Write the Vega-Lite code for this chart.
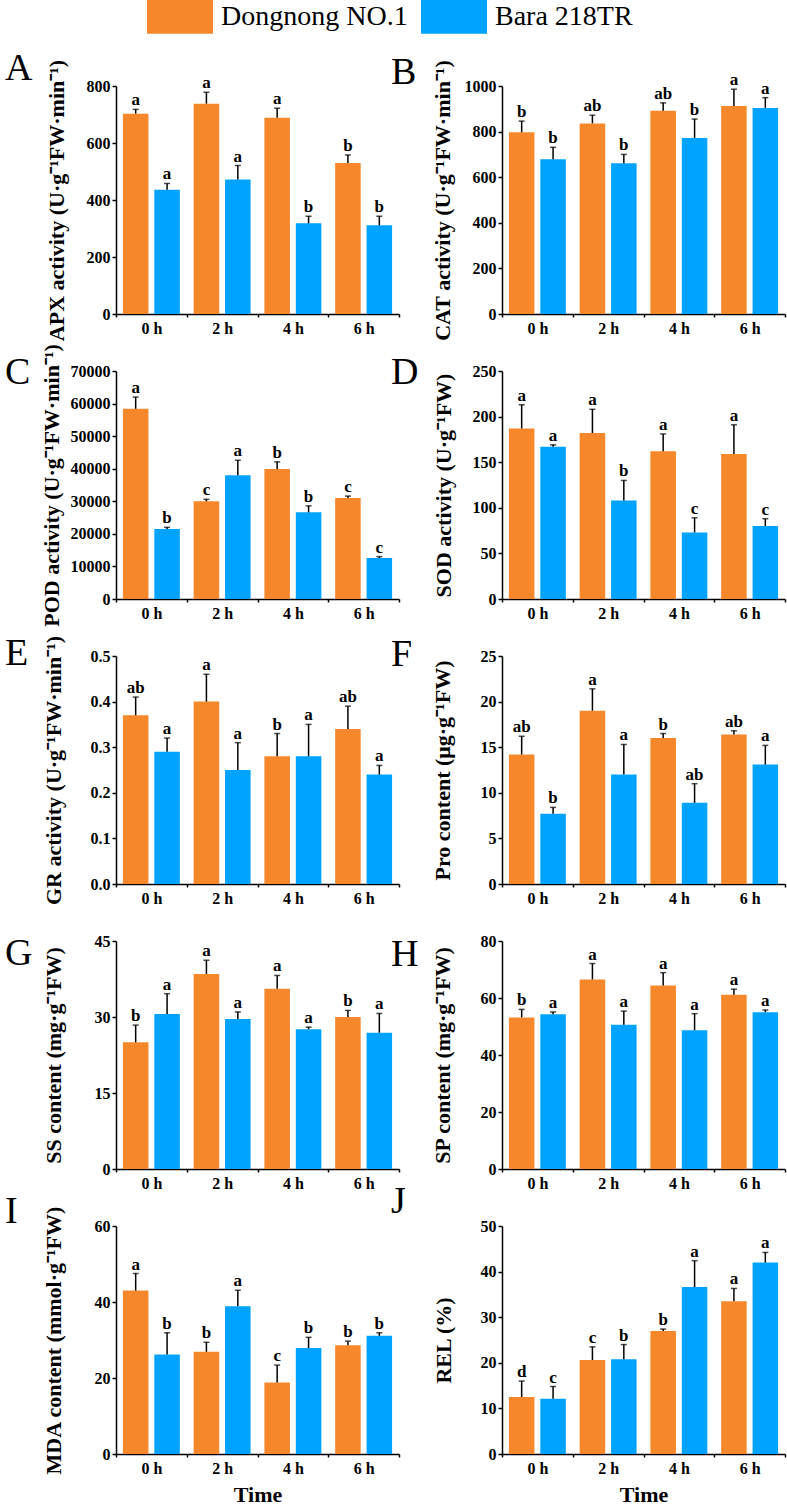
{
  "$schema": "https://vega.github.io/schema/vega-lite/v6.json",
  "background": "white",
  "padding": {"left": 5, "top": 0, "right": 1, "bottom": 1},
  "autosize": {"type": "pad"},
  "data": {"values": [
    {"p": "A", "time": "0 h", "cultivar": "Dongnong NO.1", "mean": 703, "upper": 718, "sig": "a"},
    {"p": "A", "time": "0 h", "cultivar": "Bara 218TR", "mean": 436, "upper": 458, "sig": "a"},
    {"p": "A", "time": "2 h", "cultivar": "Dongnong NO.1", "mean": 738, "upper": 778, "sig": "a"},
    {"p": "A", "time": "2 h", "cultivar": "Bara 218TR", "mean": 472, "upper": 521, "sig": "a"},
    {"p": "A", "time": "4 h", "cultivar": "Dongnong NO.1", "mean": 689, "upper": 722, "sig": "a"},
    {"p": "A", "time": "4 h", "cultivar": "Bara 218TR", "mean": 318, "upper": 343, "sig": "b"},
    {"p": "A", "time": "6 h", "cultivar": "Dongnong NO.1", "mean": 530, "upper": 558, "sig": "b"},
    {"p": "A", "time": "6 h", "cultivar": "Bara 218TR", "mean": 311, "upper": 343, "sig": "b"},

    {"p": "B", "time": "0 h", "cultivar": "Dongnong NO.1", "mean": 797, "upper": 846, "sig": "b"},
    {"p": "B", "time": "0 h", "cultivar": "Bara 218TR", "mean": 679, "upper": 731, "sig": "b"},
    {"p": "B", "time": "2 h", "cultivar": "Dongnong NO.1", "mean": 836, "upper": 872, "sig": "ab"},
    {"p": "B", "time": "2 h", "cultivar": "Bara 218TR", "mean": 661, "upper": 700, "sig": "b"},
    {"p": "B", "time": "4 h", "cultivar": "Dongnong NO.1", "mean": 891, "upper": 926, "sig": "ab"},
    {"p": "B", "time": "4 h", "cultivar": "Bara 218TR", "mean": 772, "upper": 855, "sig": "b"},
    {"p": "B", "time": "6 h", "cultivar": "Dongnong NO.1", "mean": 912, "upper": 986, "sig": "a"},
    {"p": "B", "time": "6 h", "cultivar": "Bara 218TR", "mean": 904, "upper": 949, "sig": "a"},

    {"p": "C", "time": "0 h", "cultivar": "Dongnong NO.1", "mean": 58400, "upper": 62000, "sig": "a"},
    {"p": "C", "time": "0 h", "cultivar": "Bara 218TR", "mean": 21500, "upper": 22000, "sig": "b"},
    {"p": "C", "time": "2 h", "cultivar": "Dongnong NO.1", "mean": 30000, "upper": 30600, "sig": "c"},
    {"p": "C", "time": "2 h", "cultivar": "Bara 218TR", "mean": 38000, "upper": 42600, "sig": "a"},
    {"p": "C", "time": "4 h", "cultivar": "Dongnong NO.1", "mean": 39900, "upper": 42100, "sig": "b"},
    {"p": "C", "time": "4 h", "cultivar": "Bara 218TR", "mean": 26600, "upper": 28600, "sig": "b"},
    {"p": "C", "time": "6 h", "cultivar": "Dongnong NO.1", "mean": 31000, "upper": 31600, "sig": "c"},
    {"p": "C", "time": "6 h", "cultivar": "Bara 218TR", "mean": 12600, "upper": 13000, "sig": "c"},

    {"p": "D", "time": "0 h", "cultivar": "Dongnong NO.1", "mean": 187, "upper": 213, "sig": "a"},
    {"p": "D", "time": "0 h", "cultivar": "Bara 218TR", "mean": 167, "upper": 169, "sig": "a"},
    {"p": "D", "time": "2 h", "cultivar": "Dongnong NO.1", "mean": 182, "upper": 208, "sig": "a"},
    {"p": "D", "time": "2 h", "cultivar": "Bara 218TR", "mean": 108, "upper": 130, "sig": "b"},
    {"p": "D", "time": "4 h", "cultivar": "Dongnong NO.1", "mean": 162, "upper": 181, "sig": "a"},
    {"p": "D", "time": "4 h", "cultivar": "Bara 218TR", "mean": 73, "upper": 89, "sig": "c"},
    {"p": "D", "time": "6 h", "cultivar": "Dongnong NO.1", "mean": 159, "upper": 191, "sig": "a"},
    {"p": "D", "time": "6 h", "cultivar": "Bara 218TR", "mean": 80, "upper": 88, "sig": "c"},

    {"p": "E", "time": "0 h", "cultivar": "Dongnong NO.1", "mean": 0.37, "upper": 0.41, "sig": "ab"},
    {"p": "E", "time": "0 h", "cultivar": "Bara 218TR", "mean": 0.29, "upper": 0.32, "sig": "a"},
    {"p": "E", "time": "2 h", "cultivar": "Dongnong NO.1", "mean": 0.40, "upper": 0.46, "sig": "a"},
    {"p": "E", "time": "2 h", "cultivar": "Bara 218TR", "mean": 0.25, "upper": 0.31, "sig": "a"},
    {"p": "E", "time": "4 h", "cultivar": "Dongnong NO.1", "mean": 0.28, "upper": 0.33, "sig": "b"},
    {"p": "E", "time": "4 h", "cultivar": "Bara 218TR", "mean": 0.28, "upper": 0.35, "sig": "a"},
    {"p": "E", "time": "6 h", "cultivar": "Dongnong NO.1", "mean": 0.34, "upper": 0.39, "sig": "ab"},
    {"p": "E", "time": "6 h", "cultivar": "Bara 218TR", "mean": 0.24, "upper": 0.26, "sig": "a"},

    {"p": "F", "time": "0 h", "cultivar": "Dongnong NO.1", "mean": 14.2, "upper": 16.2, "sig": "ab"},
    {"p": "F", "time": "0 h", "cultivar": "Bara 218TR", "mean": 7.7, "upper": 8.4, "sig": "b"},
    {"p": "F", "time": "2 h", "cultivar": "Dongnong NO.1", "mean": 19.0, "upper": 21.4, "sig": "a"},
    {"p": "F", "time": "2 h", "cultivar": "Bara 218TR", "mean": 12.0, "upper": 15.3, "sig": "a"},
    {"p": "F", "time": "4 h", "cultivar": "Dongnong NO.1", "mean": 16.0, "upper": 16.5, "sig": "b"},
    {"p": "F", "time": "4 h", "cultivar": "Bara 218TR", "mean": 8.9, "upper": 11.0, "sig": "ab"},
    {"p": "F", "time": "6 h", "cultivar": "Dongnong NO.1", "mean": 16.4, "upper": 16.8, "sig": "ab"},
    {"p": "F", "time": "6 h", "cultivar": "Bara 218TR", "mean": 13.1, "upper": 15.2, "sig": "a"},

    {"p": "G", "time": "0 h", "cultivar": "Dongnong NO.1", "mean": 25.0, "upper": 28.4, "sig": "b"},
    {"p": "G", "time": "0 h", "cultivar": "Bara 218TR", "mean": 30.6, "upper": 34.6, "sig": "a"},
    {"p": "G", "time": "2 h", "cultivar": "Dongnong NO.1", "mean": 38.5, "upper": 41.2, "sig": "a"},
    {"p": "G", "time": "2 h", "cultivar": "Bara 218TR", "mean": 29.6, "upper": 31.0, "sig": "a"},
    {"p": "G", "time": "4 h", "cultivar": "Dongnong NO.1", "mean": 35.6, "upper": 38.2, "sig": "a"},
    {"p": "G", "time": "4 h", "cultivar": "Bara 218TR", "mean": 27.6, "upper": 28.0, "sig": "a"},
    {"p": "G", "time": "6 h", "cultivar": "Dongnong NO.1", "mean": 30.0, "upper": 31.3, "sig": "b"},
    {"p": "G", "time": "6 h", "cultivar": "Bara 218TR", "mean": 26.9, "upper": 30.7, "sig": "a"},

    {"p": "H", "time": "0 h", "cultivar": "Dongnong NO.1", "mean": 53.2, "upper": 56.0, "sig": "b"},
    {"p": "H", "time": "0 h", "cultivar": "Bara 218TR", "mean": 54.3, "upper": 55.1, "sig": "a"},
    {"p": "H", "time": "2 h", "cultivar": "Dongnong NO.1", "mean": 66.5, "upper": 72.1, "sig": "a"},
    {"p": "H", "time": "2 h", "cultivar": "Bara 218TR", "mean": 50.6, "upper": 55.4, "sig": "a"},
    {"p": "H", "time": "4 h", "cultivar": "Dongnong NO.1", "mean": 64.4, "upper": 68.9, "sig": "a"},
    {"p": "H", "time": "4 h", "cultivar": "Bara 218TR", "mean": 48.7, "upper": 54.5, "sig": "a"},
    {"p": "H", "time": "6 h", "cultivar": "Dongnong NO.1", "mean": 61.1, "upper": 63.1, "sig": "a"},
    {"p": "H", "time": "6 h", "cultivar": "Bara 218TR", "mean": 55.0, "upper": 55.8, "sig": "a"},

    {"p": "I", "time": "0 h", "cultivar": "Dongnong NO.1", "mean": 43.0, "upper": 47.5, "sig": "a"},
    {"p": "I", "time": "0 h", "cultivar": "Bara 218TR", "mean": 26.2, "upper": 31.9, "sig": "b"},
    {"p": "I", "time": "2 h", "cultivar": "Dongnong NO.1", "mean": 26.9, "upper": 29.4, "sig": "b"},
    {"p": "I", "time": "2 h", "cultivar": "Bara 218TR", "mean": 38.9, "upper": 43.1, "sig": "a"},
    {"p": "I", "time": "4 h", "cultivar": "Dongnong NO.1", "mean": 18.8, "upper": 23.4, "sig": "c"},
    {"p": "I", "time": "4 h", "cultivar": "Bara 218TR", "mean": 27.9, "upper": 30.7, "sig": "b"},
    {"p": "I", "time": "6 h", "cultivar": "Dongnong NO.1", "mean": 28.6, "upper": 29.7, "sig": "b"},
    {"p": "I", "time": "6 h", "cultivar": "Bara 218TR", "mean": 31.1, "upper": 31.9, "sig": "b"},

    {"p": "J", "time": "0 h", "cultivar": "Dongnong NO.1", "mean": 12.5, "upper": 16.0, "sig": "d"},
    {"p": "J", "time": "0 h", "cultivar": "Bara 218TR", "mean": 12.1, "upper": 14.8, "sig": "c"},
    {"p": "J", "time": "2 h", "cultivar": "Dongnong NO.1", "mean": 20.6, "upper": 23.5, "sig": "c"},
    {"p": "J", "time": "2 h", "cultivar": "Bara 218TR", "mean": 20.8, "upper": 24.0, "sig": "b"},
    {"p": "J", "time": "4 h", "cultivar": "Dongnong NO.1", "mean": 27.0, "upper": 27.4, "sig": "b"},
    {"p": "J", "time": "4 h", "cultivar": "Bara 218TR", "mean": 36.6, "upper": 42.4, "sig": "a"},
    {"p": "J", "time": "6 h", "cultivar": "Dongnong NO.1", "mean": 33.5, "upper": 36.3, "sig": "a"},
    {"p": "J", "time": "6 h", "cultivar": "Bara 218TR", "mean": 42.0, "upper": 44.2, "sig": "a"}
  ]},
  "columns": 2,
  "spacing": {"row": 57, "column": 103},
  "bounds": "flush",
  "align": "all",
  "concat": [
    {
      "title": {"text": "A", "offset": -29, "dx": -111},
      "width": 283, "height": 228,
      "transform": [{"filter": "datum.p === 'A'"}],
      "encoding": {
        "x": {"field": "time", "type": "nominal", "scale": {"paddingInner": 0, "paddingOuter": 0}, "axis": {"title": null}},
        "xOffset": {"field": "cultivar", "type": "nominal", "sort": ["Dongnong NO.1", "Bara 218TR"], "scale": {"paddingInner": 0.1875, "paddingOuter": 0.22}}
      },
      "layer": [
        {"mark": {"type": "bar"}, "encoding": {
          "y": {"field": "mean", "type": "quantitative", "scale": {"domain": [0, 800], "nice": false}, "axis": {"title": "APX activity (U·g⁻¹FW·min⁻¹)", "values": [0, 200, 400, 600, 800], "tickCount": 5, "titleX": -48}},
          "color": {"field": "cultivar", "type": "nominal", "scale": {"domain": ["Dongnong NO.1", "Bara 218TR"], "range": ["#F6872B", "#00A3FF"]}, "legend": {"title": null, "orient": "none", "legendX": 31, "legendY": -86}}}},
        {"mark": {"type": "rule", "strokeWidth": 1.5, "color": "#000"}, "encoding": {"y": {"field": "mean", "type": "quantitative"}, "y2": {"field": "upper"}}},
        {"mark": {"type": "tick", "orient": "horizontal", "size": 6, "thickness": 1.5, "color": "#000"}, "encoding": {"y": {"field": "upper", "type": "quantitative"}}},
        {"mark": {"type": "text", "baseline": "alphabetic", "dy": -4, "font": "Liberation Serif", "fontWeight": "bold", "fontSize": 17, "color": "#000"}, "encoding": {"y": {"field": "upper", "type": "quantitative"}, "text": {"field": "sig"}}}
      ]
    },
    {
      "title": {"text": "B", "offset": -32, "dx": -111},
      "width": 283, "height": 228,
      "transform": [{"filter": "datum.p === 'B'"}],
      "encoding": {
        "x": {"field": "time", "type": "nominal", "scale": {"paddingInner": 0, "paddingOuter": 0}, "axis": {"title": null}},
        "xOffset": {"field": "cultivar", "type": "nominal", "sort": ["Dongnong NO.1", "Bara 218TR"], "scale": {"paddingInner": 0.1875, "paddingOuter": 0.22}}
      },
      "layer": [
        {"mark": {"type": "bar"}, "encoding": {
          "y": {"field": "mean", "type": "quantitative", "scale": {"domain": [0, 1000], "nice": false}, "axis": {"title": "CAT activity (U·g⁻¹FW·min⁻¹)", "values": [0, 200, 400, 600, 800, 1000], "tickCount": 6, "format": "d", "titleX": -48}},
          "color": {"field": "cultivar", "type": "nominal", "scale": {"domain": ["Dongnong NO.1", "Bara 218TR"], "range": ["#F6872B", "#00A3FF"]}, "legend": {"title": null, "orient": "none", "legendX": 31, "legendY": -86}}}},
        {"mark": {"type": "rule", "strokeWidth": 1.5, "color": "#000"}, "encoding": {"y": {"field": "mean", "type": "quantitative"}, "y2": {"field": "upper"}}},
        {"mark": {"type": "tick", "orient": "horizontal", "size": 6, "thickness": 1.5, "color": "#000"}, "encoding": {"y": {"field": "upper", "type": "quantitative"}}},
        {"mark": {"type": "text", "baseline": "alphabetic", "dy": -4, "font": "Liberation Serif", "fontWeight": "bold", "fontSize": 17, "color": "#000"}, "encoding": {"y": {"field": "upper", "type": "quantitative"}, "text": {"field": "sig"}}}
      ]
    },
    {
      "title": {"text": "C", "offset": -48, "dx": -111},
      "width": 283, "height": 228,
      "transform": [{"filter": "datum.p === 'C'"}],
      "encoding": {
        "x": {"field": "time", "type": "nominal", "scale": {"paddingInner": 0, "paddingOuter": 0}, "axis": {"title": null}},
        "xOffset": {"field": "cultivar", "type": "nominal", "sort": ["Dongnong NO.1", "Bara 218TR"], "scale": {"paddingInner": 0.1875, "paddingOuter": 0.22}}
      },
      "layer": [
        {"mark": {"type": "bar"}, "encoding": {
          "y": {"field": "mean", "type": "quantitative", "scale": {"domain": [0, 70000], "nice": false}, "axis": {"title": "POD activity (U·g⁻¹FW·min⁻¹)", "values": [0, 10000, 20000, 30000, 40000, 50000, 60000, 70000], "tickCount": 8, "labelOverlap": false, "format": "d", "titleX": -53}},
          "color": {"field": "cultivar", "type": "nominal", "scale": {"domain": ["Dongnong NO.1", "Bara 218TR"], "range": ["#F6872B", "#00A3FF"]}, "legend": {"title": null, "orient": "none", "legendX": 31, "legendY": -86}}}},
        {"mark": {"type": "rule", "strokeWidth": 1.5, "color": "#000"}, "encoding": {"y": {"field": "mean", "type": "quantitative"}, "y2": {"field": "upper"}}},
        {"mark": {"type": "tick", "orient": "horizontal", "size": 6, "thickness": 1.5, "color": "#000"}, "encoding": {"y": {"field": "upper", "type": "quantitative"}}},
        {"mark": {"type": "text", "baseline": "alphabetic", "dy": -4, "font": "Liberation Serif", "fontWeight": "bold", "fontSize": 17, "color": "#000"}, "encoding": {"y": {"field": "upper", "type": "quantitative"}, "text": {"field": "sig"}}}
      ]
    },
    {
      "title": {"text": "D", "offset": -29, "dx": -111},
      "width": 283, "height": 228,
      "transform": [{"filter": "datum.p === 'D'"}],
      "encoding": {
        "x": {"field": "time", "type": "nominal", "scale": {"paddingInner": 0, "paddingOuter": 0}, "axis": {"title": null}},
        "xOffset": {"field": "cultivar", "type": "nominal", "sort": ["Dongnong NO.1", "Bara 218TR"], "scale": {"paddingInner": 0.1875, "paddingOuter": 0.22}}
      },
      "layer": [
        {"mark": {"type": "bar"}, "encoding": {
          "y": {"field": "mean", "type": "quantitative", "scale": {"domain": [0, 250], "nice": false}, "axis": {"title": "SOD activity (U·g⁻¹FW)", "values": [0, 50, 100, 150, 200, 250], "tickCount": 6, "titleX": -47}},
          "color": {"field": "cultivar", "type": "nominal", "scale": {"domain": ["Dongnong NO.1", "Bara 218TR"], "range": ["#F6872B", "#00A3FF"]}, "legend": {"title": null, "orient": "none", "legendX": 31, "legendY": -86}}}},
        {"mark": {"type": "rule", "strokeWidth": 1.5, "color": "#000"}, "encoding": {"y": {"field": "mean", "type": "quantitative"}, "y2": {"field": "upper"}}},
        {"mark": {"type": "tick", "orient": "horizontal", "size": 6, "thickness": 1.5, "color": "#000"}, "encoding": {"y": {"field": "upper", "type": "quantitative"}}},
        {"mark": {"type": "text", "baseline": "alphabetic", "dy": -4, "font": "Liberation Serif", "fontWeight": "bold", "fontSize": 17, "color": "#000"}, "encoding": {"y": {"field": "upper", "type": "quantitative"}, "text": {"field": "sig"}}}
      ]
    },
    {
      "title": {"text": "E", "offset": -38, "dx": -111},
      "width": 283, "height": 228,
      "transform": [{"filter": "datum.p === 'E'"}],
      "encoding": {
        "x": {"field": "time", "type": "nominal", "scale": {"paddingInner": 0, "paddingOuter": 0}, "axis": {"title": null}},
        "xOffset": {"field": "cultivar", "type": "nominal", "sort": ["Dongnong NO.1", "Bara 218TR"], "scale": {"paddingInner": 0.1875, "paddingOuter": 0.22}}
      },
      "layer": [
        {"mark": {"type": "bar"}, "encoding": {
          "y": {"field": "mean", "type": "quantitative", "scale": {"domain": [0, 0.5], "nice": false}, "axis": {"title": "GR activity (U·g⁻¹FW·min⁻¹)", "values": [0, 0.1, 0.2, 0.3, 0.4, 0.5], "tickCount": 6, "format": ".1f", "titleX": -51}},
          "color": {"field": "cultivar", "type": "nominal", "scale": {"domain": ["Dongnong NO.1", "Bara 218TR"], "range": ["#F6872B", "#00A3FF"]}, "legend": {"title": null, "orient": "none", "legendX": 31, "legendY": -86}}}},
        {"mark": {"type": "rule", "strokeWidth": 1.5, "color": "#000"}, "encoding": {"y": {"field": "mean", "type": "quantitative"}, "y2": {"field": "upper"}}},
        {"mark": {"type": "tick", "orient": "horizontal", "size": 6, "thickness": 1.5, "color": "#000"}, "encoding": {"y": {"field": "upper", "type": "quantitative"}}},
        {"mark": {"type": "text", "baseline": "alphabetic", "dy": -4, "font": "Liberation Serif", "fontWeight": "bold", "fontSize": 17, "color": "#000"}, "encoding": {"y": {"field": "upper", "type": "quantitative"}, "text": {"field": "sig"}}}
      ]
    },
    {
      "title": {"text": "F", "offset": -26, "dx": -111},
      "width": 283, "height": 228,
      "transform": [{"filter": "datum.p === 'F'"}],
      "encoding": {
        "x": {"field": "time", "type": "nominal", "scale": {"paddingInner": 0, "paddingOuter": 0}, "axis": {"title": null}},
        "xOffset": {"field": "cultivar", "type": "nominal", "sort": ["Dongnong NO.1", "Bara 218TR"], "scale": {"paddingInner": 0.1875, "paddingOuter": 0.22}}
      },
      "layer": [
        {"mark": {"type": "bar"}, "encoding": {
          "y": {"field": "mean", "type": "quantitative", "scale": {"domain": [0, 25], "nice": false}, "axis": {"title": "Pro content (μg·g⁻¹FW)", "values": [0, 5, 10, 15, 20, 25], "tickCount": 6, "titleX": -48}},
          "color": {"field": "cultivar", "type": "nominal", "scale": {"domain": ["Dongnong NO.1", "Bara 218TR"], "range": ["#F6872B", "#00A3FF"]}, "legend": {"title": null, "orient": "none", "legendX": 31, "legendY": -86}}}},
        {"mark": {"type": "rule", "strokeWidth": 1.5, "color": "#000"}, "encoding": {"y": {"field": "mean", "type": "quantitative"}, "y2": {"field": "upper"}}},
        {"mark": {"type": "tick", "orient": "horizontal", "size": 6, "thickness": 1.5, "color": "#000"}, "encoding": {"y": {"field": "upper", "type": "quantitative"}}},
        {"mark": {"type": "text", "baseline": "alphabetic", "dy": -4, "font": "Liberation Serif", "fontWeight": "bold", "fontSize": 17, "color": "#000"}, "encoding": {"y": {"field": "upper", "type": "quantitative"}, "text": {"field": "sig"}}}
      ]
    },
    {
      "title": {"text": "G", "offset": -40, "dx": -111},
      "width": 283, "height": 228,
      "transform": [{"filter": "datum.p === 'G'"}],
      "encoding": {
        "x": {"field": "time", "type": "nominal", "scale": {"paddingInner": 0, "paddingOuter": 0}, "axis": {"title": null}},
        "xOffset": {"field": "cultivar", "type": "nominal", "sort": ["Dongnong NO.1", "Bara 218TR"], "scale": {"paddingInner": 0.1875, "paddingOuter": 0.22}}
      },
      "layer": [
        {"mark": {"type": "bar"}, "encoding": {
          "y": {"field": "mean", "type": "quantitative", "scale": {"domain": [0, 45], "nice": false}, "axis": {"title": "SS content (mg·g⁻¹FW)", "values": [0, 15, 30, 45], "tickCount": 4, "titleX": -51}},
          "color": {"field": "cultivar", "type": "nominal", "scale": {"domain": ["Dongnong NO.1", "Bara 218TR"], "range": ["#F6872B", "#00A3FF"]}, "legend": {"title": null, "orient": "none", "legendX": 31, "legendY": -86}}}},
        {"mark": {"type": "rule", "strokeWidth": 1.5, "color": "#000"}, "encoding": {"y": {"field": "mean", "type": "quantitative"}, "y2": {"field": "upper"}}},
        {"mark": {"type": "tick", "orient": "horizontal", "size": 6, "thickness": 1.5, "color": "#000"}, "encoding": {"y": {"field": "upper", "type": "quantitative"}}},
        {"mark": {"type": "text", "baseline": "alphabetic", "dy": -4, "font": "Liberation Serif", "fontWeight": "bold", "fontSize": 17, "color": "#000"}, "encoding": {"y": {"field": "upper", "type": "quantitative"}, "text": {"field": "sig"}}}
      ]
    },
    {
      "title": {"text": "H", "offset": -41, "dx": -111},
      "width": 283, "height": 228,
      "transform": [{"filter": "datum.p === 'H'"}],
      "encoding": {
        "x": {"field": "time", "type": "nominal", "scale": {"paddingInner": 0, "paddingOuter": 0}, "axis": {"title": null}},
        "xOffset": {"field": "cultivar", "type": "nominal", "sort": ["Dongnong NO.1", "Bara 218TR"], "scale": {"paddingInner": 0.1875, "paddingOuter": 0.22}}
      },
      "layer": [
        {"mark": {"type": "bar"}, "encoding": {
          "y": {"field": "mean", "type": "quantitative", "scale": {"domain": [0, 80], "nice": false}, "axis": {"title": "SP content (mg·g⁻¹FW)", "values": [0, 20, 40, 60, 80], "tickCount": 5, "titleX": -48}},
          "color": {"field": "cultivar", "type": "nominal", "scale": {"domain": ["Dongnong NO.1", "Bara 218TR"], "range": ["#F6872B", "#00A3FF"]}, "legend": {"title": null, "orient": "none", "legendX": 31, "legendY": -86}}}},
        {"mark": {"type": "rule", "strokeWidth": 1.5, "color": "#000"}, "encoding": {"y": {"field": "mean", "type": "quantitative"}, "y2": {"field": "upper"}}},
        {"mark": {"type": "tick", "orient": "horizontal", "size": 6, "thickness": 1.5, "color": "#000"}, "encoding": {"y": {"field": "upper", "type": "quantitative"}}},
        {"mark": {"type": "text", "baseline": "alphabetic", "dy": -4, "font": "Liberation Serif", "fontWeight": "bold", "fontSize": 17, "color": "#000"}, "encoding": {"y": {"field": "upper", "type": "quantitative"}, "text": {"field": "sig"}}}
      ]
    },
    {
      "title": {"text": "I", "offset": -25, "dx": -111},
      "width": 283, "height": 228,
      "transform": [{"filter": "datum.p === 'I'"}],
      "encoding": {
        "x": {"field": "time", "type": "nominal", "scale": {"paddingInner": 0, "paddingOuter": 0}, "axis": {"title": "Time"}},
        "xOffset": {"field": "cultivar", "type": "nominal", "sort": ["Dongnong NO.1", "Bara 218TR"], "scale": {"paddingInner": 0.1875, "paddingOuter": 0.22}}
      },
      "layer": [
        {"mark": {"type": "bar"}, "encoding": {
          "y": {"field": "mean", "type": "quantitative", "scale": {"domain": [0, 60], "nice": false}, "axis": {"title": "MDA content (mmol·g⁻¹FW)", "values": [0, 20, 40, 60], "tickCount": 4, "titleX": -51}},
          "color": {"field": "cultivar", "type": "nominal", "scale": {"domain": ["Dongnong NO.1", "Bara 218TR"], "range": ["#F6872B", "#00A3FF"]}, "legend": {"title": null, "orient": "none", "legendX": 31, "legendY": -86}}}},
        {"mark": {"type": "rule", "strokeWidth": 1.5, "color": "#000"}, "encoding": {"y": {"field": "mean", "type": "quantitative"}, "y2": {"field": "upper"}}},
        {"mark": {"type": "tick", "orient": "horizontal", "size": 6, "thickness": 1.5, "color": "#000"}, "encoding": {"y": {"field": "upper", "type": "quantitative"}}},
        {"mark": {"type": "text", "baseline": "alphabetic", "dy": -4, "font": "Liberation Serif", "fontWeight": "bold", "fontSize": 17, "color": "#000"}, "encoding": {"y": {"field": "upper", "type": "quantitative"}, "text": {"field": "sig"}}}
      ]
    },
    {
      "title": {"text": "J", "offset": -3, "dx": -111},
      "width": 283, "height": 228,
      "transform": [{"filter": "datum.p === 'J'"}],
      "encoding": {
        "x": {"field": "time", "type": "nominal", "scale": {"paddingInner": 0, "paddingOuter": 0}, "axis": {"title": "Time"}},
        "xOffset": {"field": "cultivar", "type": "nominal", "sort": ["Dongnong NO.1", "Bara 218TR"], "scale": {"paddingInner": 0.1875, "paddingOuter": 0.22}}
      },
      "layer": [
        {"mark": {"type": "bar"}, "encoding": {
          "y": {"field": "mean", "type": "quantitative", "scale": {"domain": [0, 50], "nice": false}, "axis": {"title": "REL (%)", "values": [0, 10, 20, 30, 40, 50], "tickCount": 6, "titleX": -47}},
          "color": {"field": "cultivar", "type": "nominal", "scale": {"domain": ["Dongnong NO.1", "Bara 218TR"], "range": ["#F6872B", "#00A3FF"]}, "legend": {"title": null, "orient": "none", "legendX": 31, "legendY": -86}}}},
        {"mark": {"type": "rule", "strokeWidth": 1.5, "color": "#000"}, "encoding": {"y": {"field": "mean", "type": "quantitative"}, "y2": {"field": "upper"}}},
        {"mark": {"type": "tick", "orient": "horizontal", "size": 6, "thickness": 1.5, "color": "#000"}, "encoding": {"y": {"field": "upper", "type": "quantitative"}}},
        {"mark": {"type": "text", "baseline": "alphabetic", "dy": -4, "font": "Liberation Serif", "fontWeight": "bold", "fontSize": 17, "color": "#000"}, "encoding": {"y": {"field": "upper", "type": "quantitative"}, "text": {"field": "sig"}}}
      ]
    }
  ],
  "resolve": {"scale": {"x": "independent", "y": "independent", "xOffset": "independent"}},
  "config": {
    "view": {"stroke": null},
    "font": "Liberation Serif",
    "title": {"anchor": "start", "frame": "group", "font": "Liberation Serif", "fontSize": 38, "fontWeight": "normal", "color": "#000", "baseline": "alphabetic"},
    "axis": {
      "grid": false,
      "domainColor": "#000", "domainWidth": 1.5,
      "tickColor": "#000", "tickWidth": 1.5,
      "labelColor": "#000", "labelFont": "Liberation Serif", "labelFontWeight": "bold", "labelFontSize": 16,
      "labelOverlap": false,
      "titleColor": "#000", "titleFont": "Liberation Serif", "titleFontWeight": "bold", "titleFontSize": 22
    },
    "axisX": {"tickBand": "extent", "tickSize": 3, "labelPadding": 3, "labelAngle": 0, "titleFontSize": 22, "titlePadding": 8},
    "axisY": {"tickSize": 4, "labelPadding": 2},
    "legend": {
      "direction": "horizontal",
      "symbolType": "M-2,-1.03H2V1.03H-2Z",
      "symbolSize": 1089,
      "symbolOffset": 16.5,
      "symbolStrokeWidth": 0,
      "symbolOpacity": 1,
      "labelFont": "Liberation Serif",
      "labelFontSize": 28,
      "labelColor": "#000",
      "labelOffset": 24.5,
      "columnPadding": 13,
      "padding": 0,
      "labelLimit": 400
    }
  }
}
